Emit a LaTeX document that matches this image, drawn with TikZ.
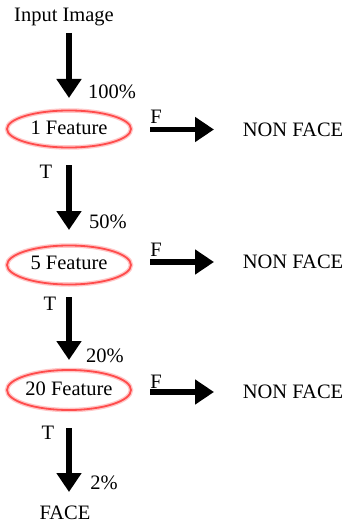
\documentclass[tikz,border=0pt]{standalone}
\usepackage{fontspec}
\setmainfont{Liberation Serif}
\usetikzlibrary{arrows.meta,shapes.geometric}
\begin{document}
\begin{tikzpicture}[x=1pt,y=-1pt,
  txt/.style={font=\fontsize{20.5}{23}\selectfont, inner sep=0pt, anchor=center},
  feat/.style={ellipse, minimum width=124pt, minimum height=38pt, inner sep=0pt},
  bigarrow/.style={line width=5.5pt, -{Triangle[width=24pt,length=19pt]}},
  halo/.style={draw=red!22, line width=4.5pt},
  ring/.style={draw=red!70!white, line width=1.8pt}
]
\useasboundingbox (0,0) rectangle (345,524);
\fill[white] (0,0) rectangle (345,524);

% input and output labels
\node[txt] (in) at (64,17) {Input Image};
\node[txt] (face) at (65,513) {FACE};

% classifier stages
\foreach \n/\y/\ry/\ty/\lab in {s1/129/18.5/128/1 Feature, s2/265/19.5/263/5 Feature, s3/390/20/389/20 Feature}{
  \node[feat] (\n) at (69,\y) {};
  \draw[halo] (\n.center) ellipse [x radius=62, y radius=\ry];
  \draw[ring] (\n.center) ellipse [x radius=62, y radius=\ry];
  \node[txt] at (69,\ty) {\lab};
}

% rejection outputs
\node[txt] (n1) at (293,130) {NON FACE};
\node[txt] (n2) at (293,262) {NON FACE};
\node[txt] (n3) at (293,392) {NON FACE};

% helper points for the arrow ends
\coordinate (a0s) at (69,33);   \coordinate (a0e) at (69,98);
\coordinate (a1s) at (69,165);  \coordinate (a1e) at (69,230);
\coordinate (a2s) at (69,297);  \coordinate (a2e) at (69,360);
\coordinate (a3s) at (69,428);  \coordinate (a3e) at (69,492);
\coordinate (f1s) at (150,129.5); \coordinate (f1e) at (214,129.5);
\coordinate (f2s) at (150,262);   \coordinate (f2e) at (214,262);
\coordinate (f3s) at (150,392);   \coordinate (f3e) at (214,392);

% vertical (true) arrows
\draw[bigarrow] (a0s) -- (a0e);
\draw[bigarrow] (a1s) -- (a1e);
\draw[bigarrow] (a2s) -- (a2e);
\draw[bigarrow] (a3s) -- (a3e);

% horizontal (false) arrows
\draw[bigarrow] (f1s) -- (f1e);
\draw[bigarrow] (f2s) -- (f2e);
\draw[bigarrow] (f3s) -- (f3e);

% branch labels
\node[txt] at (156,117) {F};
\node[txt] at (156,250) {F};
\node[txt] at (156,382) {F};
\node[txt] at (46,172) {T};
\node[txt] at (50,304) {T};
\node[txt] at (48,433) {T};

% pass rates
\node[txt] at (112,92) {100\%};
\node[txt] at (108,222) {50\%};
\node[txt] at (105,356) {20\%};
\node[txt] at (104,483) {2\%};
\end{tikzpicture}
\end{document}
